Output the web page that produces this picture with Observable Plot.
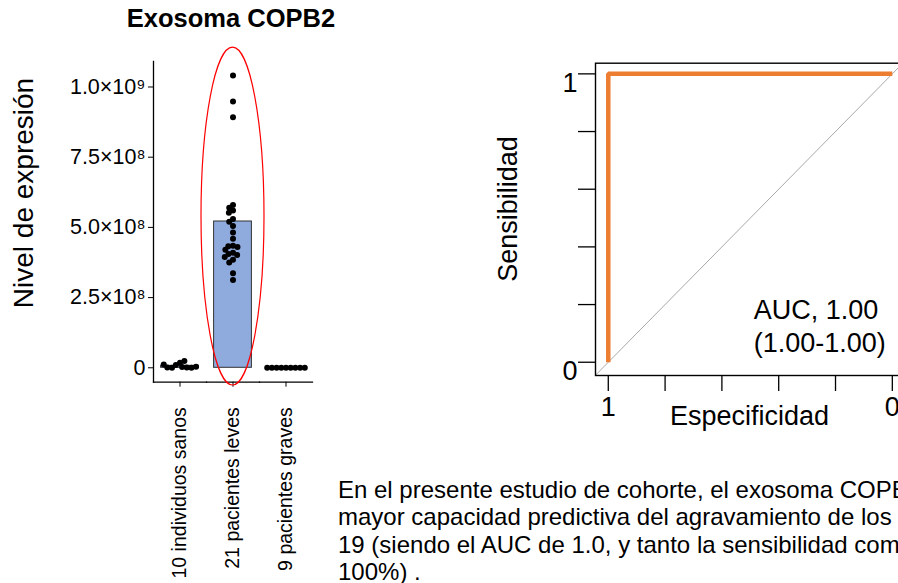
<!DOCTYPE html>
<html><head><meta charset="utf-8">
<script src="https://cdn.jsdelivr.net/npm/d3@7"></script>
<script src="https://cdn.jsdelivr.net/npm/@observablehq/plot@0.6"></script>
<style>
html,body{margin:0;padding:0;background:#fff;}
body{width:898px;height:583px;overflow:hidden;position:relative;font-family:"Liberation Sans",Arial,sans-serif;color:#000;}
.abs{position:absolute;white-space:nowrap;line-height:1;}
.rot{transform:translate(-50%,-50%) rotate(-90deg);}
#left,#roc{position:absolute;top:0;}
#left{left:0;width:340px;}
#roc{left:480px;width:430px;}
#left svg,#roc svg{max-width:none;display:block;}
#title{left:231px;top:5.5px;transform:translateX(-50%);font-weight:bold;font-size:25.5px;}
#ylab{left:23.6px;top:193px;font-size:28px;}
#sens{left:507.6px;top:209px;font-size:27px;}
#espec{left:749.5px;top:403px;transform:translateX(-50%);font-size:27px;}
#body{left:338px;top:476px;font-size:24px;line-height:27.3px;}
</style></head><body>
<div id="left"></div>
<div id="roc"></div>
<div id="title" class="abs">Exosoma COPB2</div>
<div id="ylab" class="abs rot">Nivel de expresión</div>
<div id="sens" class="abs rot">Sensibilidad</div>
<div id="espec" class="abs">Especificidad</div>
<div id="body" class="abs">En el presente estudio de cohorte, el exosoma COPB2<br>mayor capacidad predictiva del agravamiento de los pacientes<br>19 (siendo el AUC de 1.0, y tanto la sensibilidad como<br>100%) .</div>
<script>
// ---- data: left panel ----
const groups = ["10 individuos sanos", "21 pacientes leves", "9 pacientes graves"];
const barMeans = [7e6, 5.21e8, 0];
const sanos = [1.8e7, 1.0e7, 3e6, 1e6, 5e5, 5e5, 1e6, 4e6, 1.2e7, 2.4e7];
const leves = [1.041e9, 9.48e8, 8.92e8, 5.80e8, 5.70e8, 5.60e8, 5.52e8, 5.30e8, 5.20e8, 5.05e8,
               4.82e8, 4.60e8, 4.35e8, 4.33e8, 4.30e8, 4.20e8, 4.10e8, 4.05e8, 4.02e8, 3.95e8,
               3.85e8, 3.75e8, 3.37e8, 3.13e8];
const graves = [0, 0, 0, 0, 0, 0, 0, 0, 0];
const yTicks = [0, 2.5e8, 5e8, 7.5e8, 1e9];
const yTickLabels = ["0", "2.5×10⁸", "5.0×10⁸", "7.5×10⁸", "1.0×10⁹"];
const yDomain = [-5.13e7, 1.0908e9];
const highlight = {group: groups[1], top: 1.14e9, bottom: -6.3e7};

// ---- data: ROC panel ----
const rocSpec = [1, 1, 0];
const rocSens = [0, 1, 1];
const rocTicks = [0, 0.2, 0.4, 0.6, 0.8, 1];
const rocTickLabels = ["0", "", "", "", "", "1"];
const chanceSpec = [1.046, -0.046];
const chanceSens = [-0.046, 1.046];
const aucText = ["AUC, 1.00", "(1.00-1.00)"];
const aucPos = {spec: 0.488, sens: 0.129};

const FONT = '"Liberation Sans", Arial, sans-serif';

// ---- left chart ----
const points = [
  ...sanos.map(v => ({group: groups[0], value: v})),
  ...leves.map(v => ({group: groups[1], value: v})),
  ...graves.map(v => ({group: groups[2], value: v}))
];
const bars = groups.map((g, i) => ({group: g, mean: barMeans[i]}));

const left = Plot.plot({
  width: 340, height: 583,
  marginLeft: 151.7, marginRight: 27, marginTop: 61, marginBottom: 201.3,
  style: {fontFamily: FONT, fontSize: "21px", color: "black", background: "transparent", overflow: "visible"},
  fx: {domain: groups, padding: 0},
  y: {domain: yDomain},
  marks: [
    Plot.barY(bars, {fx: "group", y: "mean", fill: "#8FAADC", stroke: "#333", strokeWidth: 1, insetLeft: 7.6, insetRight: 7.6}),
    Plot.dot(points, Plot.dodgeX({anchor: "middle", padding: -1.3}, {fx: "group", y: "value", r: 3, fill: "black"})),
    Plot.frame({anchor: "bottom", stroke: "black", strokeWidth: 1.3}),
    Plot.frame({anchor: "left", facetAnchor: "left", stroke: "black", strokeWidth: 1.3}),
    Plot.axisY({ticks: yTicks, tickFormat: d => yTickLabels[yTicks.indexOf(d)], tickSize: 5, tickPadding: 3, fontSize: 21.5, label: null}),
    Plot.axisFx({anchor: "bottom", tickRotate: -90, tickSize: 5, tickPadding: 20, fontSize: 19.5, label: null})
  ]
});
document.getElementById("left").appendChild(left);

// red highlight ellipse, positioned through the plot's scales
{
  const fxS = left.scale("fx"), yS = left.scale("y");
  const cx = fxS.apply(highlight.group) + fxS.bandwidth / 2;
  const y1 = yS.apply(highlight.top), y2 = yS.apply(highlight.bottom);
  d3.select(left).append("ellipse")
    .attr("cx", cx).attr("cy", (y1 + y2) / 2)
    .attr("rx", 31.5).attr("ry", (y2 - y1) / 2)
    .attr("fill", "none").attr("stroke", "#FF0000").attr("stroke-width", 1.2);
}

// ---- ROC chart ----
const rocData = rocSpec.map((s, i) => ({spec: s, sens: rocSens[i]}));
const chance = chanceSpec.map((s, i) => ({spec: s, sens: chanceSens[i]}));

const roc = Plot.plot({
  width: 430, height: 440,
  marginLeft: 115, marginRight: 5.4, marginTop: 62.7, marginBottom: 65,
  style: {fontFamily: FONT, fontSize: "27px", color: "black", background: "transparent", overflow: "visible"},
  x: {domain: [1.045, -0.045]},
  y: {domain: [-0.046, 1.037]},
  marks: [
    Plot.line(chance, {x: "spec", y: "sens", stroke: "#A8A8A8", strokeWidth: 1, clip: true}),
    Plot.line(rocData, {x: "spec", y: "sens", stroke: "#ED7D31", strokeWidth: 4.5, strokeLinecap: "butt", strokeLinejoin: "miter"}),
    Plot.text([aucText.join("\n")], {x: aucPos.spec, y: aucPos.sens, text: d => d, textAnchor: "start", lineAnchor: "middle", lineHeight: 1.22, fontSize: 27}),
    Plot.frame({stroke: "black", strokeWidth: 1.4}),
    Plot.axisX({ticks: rocTicks, tickFormat: d => rocTickLabels[rocTicks.indexOf(d)], tickSize: 16, tickPadding: 5, fontSize: 27, strokeWidth: 1.3, label: null}),
    Plot.axisY({ticks: rocTicks, tickFormat: () => "", tickSize: 17, strokeWidth: 1.3, label: null}),
    Plot.axisY({ticks: rocTicks, tickFormat: d => rocTickLabels[rocTicks.indexOf(d)], tickSize: 0, tickPadding: 18, dy: 9, fontSize: 27, label: null})
  ]
});
document.getElementById("roc").appendChild(roc);
</script>
</body></html>
